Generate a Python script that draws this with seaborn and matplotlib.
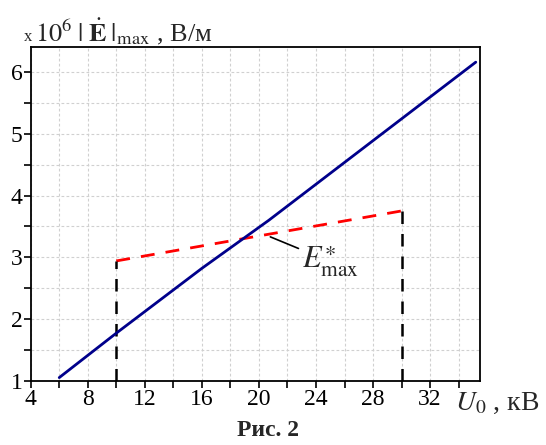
import numpy as np
import pandas as pd
import seaborn as sns
import matplotlib.pyplot as plt
from matplotlib.ticker import MultipleLocator

# data
u_blue = [6, 10, 16, 20.7, 35.2]
e_blue = [1.05, 1.77, 2.82, 3.60, 6.16]
u_red = [10, 30]
e_red = [2.94, 3.75]
x_ticks = [4, 8, 12, 16, 20, 24, 28, 32]
y_ticks = [1, 2, 3, 4, 5, 6]

sns.set_style("ticks")
plt.rcParams['font.family'] = ['Liberation Serif', 'DejaVu Serif']
plt.rcParams['mathtext.fontset'] = 'stix'

fig = plt.figure(figsize=(5.46, 4.45), dpi=100)
ax = fig.add_axes([0.0562, 0.1445, 0.823, 0.7505])

df_blue = pd.DataFrame({'U': u_blue, 'E': e_blue})
df_red = pd.DataFrame({'U': u_red, 'E': e_red})
sns.lineplot(data=df_blue, x='U', y='E', ax=ax, color='#00008B', lw=2, sort=False, zorder=4)
sns.lineplot(data=df_red, x='U', y='E', ax=ax, color='#FF0000', lw=2, sort=False,
             dashes=False, zorder=3).lines[-1].set_dashes([5, 4])

# vertical drop lines from the red segment ends
for u, e in zip(u_red, e_red):
    ax.plot([u, u], [1, e], color='black', lw=1.8, dashes=[5, 4], zorder=3)

ax.set_xlim(4, 35.5)
ax.set_ylim(1, 6.41)
ax.set_xticks(x_ticks)
ax.set_yticks(y_ticks)
ax.xaxis.set_minor_locator(MultipleLocator(2))
ax.yaxis.set_minor_locator(MultipleLocator(0.5))
ax.grid(which='both', color='#d0d0d0', linestyle=(0, (2.5, 2)), lw=0.8)
ax.tick_params(which='both', direction='out', length=5, width=1.2, labelsize=17, pad=1,
               colors='black')
for s in ax.spines.values():
    s.set_linewidth(1.3)
    s.set_color('black')
ax.set_xlabel('')
ax.set_ylabel('')

ax.annotate(r'$E^{\ast}_{\rm max}$', xy=(20.8, 3.33), xytext=(23.0, 2.93),
            fontsize=22, ha='left', va='center',
            arrowprops=dict(arrowstyle='-', color='black', lw=1.2, shrinkA=0, shrinkB=0))

fig.text(0.043, 0.908, 'x', fontsize=12, ha='left', va='baseline')
fig.text(0.064, 0.908, r'$10^6\;|\;\dot{\mathbf{E}}\;|_{\rm max}$ , В/м', fontsize=19,
         ha='left', va='baseline')
fig.text(0.833, 0.078, r'$U_0$ , кВ', fontsize=20, ha='left', va='baseline')
fig.text(0.49, 0.02, 'Рис. 2', fontsize=17, fontweight='bold', ha='center', va='baseline')

fig.savefig('out.png', dpi=100)
